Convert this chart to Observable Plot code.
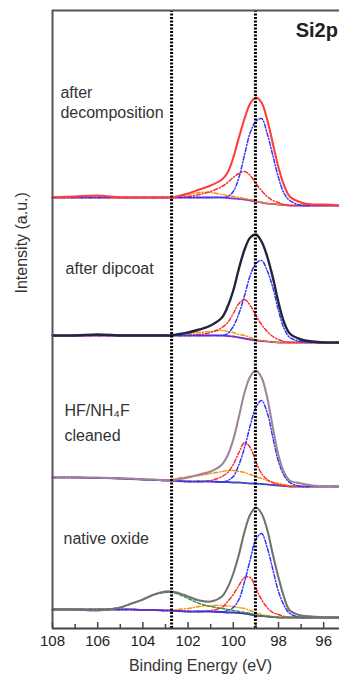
<!DOCTYPE html>
<html><head><meta charset="utf-8">
<script src="https://cdn.jsdelivr.net/npm/d3@7"></script>
<script src="https://cdn.jsdelivr.net/npm/@observablehq/plot@0.6"></script>
<style>body{margin:0;background:#fff;overflow:hidden} svg{display:block}</style>
</head><body><div id="chart"></div>
<script>
// Binding energy grid (eV)
const energy = [108, 107, 106, 105, 104.5, 104, 103.5, 103, 102.75, 102.5, 102, 101.5, 101, 100.5, 100.25, 100, 99.75, 99.5, 99.25, 99, 98.75, 98.5, 98.25, 98, 97.75, 97.5, 97, 96.5, 96, 95.3];

// vertical stacking offsets (a.u.)
const offsets = [431, 293, 151, 19];

// 1: after decomposition
const env1    = [0, 1, 2, 0, 0, 0, 0, 0, 0, 1, 4, 8, 12, 18, 25, 40, 60, 79, 94, 100, 95, 78, 54, 30, 12, 1, -5, -7, -7, -8];
const bg1     = [0, 0, 0, 0, 0, 0, 0, 0, 0, 0, 0, 0, 0, 0, -0.5, -1, -1.5, -2, -3, -4, -5, -6, -6.5, -7, -7.5, -8, -8, -8, -8, -8];
const blue1   = [0, 0, 0, 0, 0, 0, 0, 0, 0, 0, 0, 0, 0, 0, 1, 6, 20, 43, 65, 76, 79, 64, 42, 20, 4, -3, -8, -8, -8, -8];
const red1    = [0, 0, 0, 0, 0, 0, 0, 0, 0, 0, 1, 3, 6, 11, 15, 20, 24, 26, 22, 14, 7, 1, -3, -5, -7, -8, -8, -8, -8, -8];
const orange1 = [0, 0, 0, 0, 0, 0, 0, 0, 0, 1, 3, 5, 5, 3, 2, 1, 0, -1, -2, -3.5, -5, -6, -6.5, -7, -7.5, -8, -8, -8, -8, -8];

// 2: after dipcoat
const env2    = [0, 0, 1, 0, 0, 0, 0, 0, 0, 1, 3, 6, 10, 18, 29, 45, 67, 86, 98, 101, 94, 79, 58, 33, 13, 2, -4, -6, -7, -7];
const bg2     = [0, 0, 0, 0, 0, 0, 0, 0, 0, 0, 0, 0, 0, 0, -0.5, -1, -2, -3, -4, -5, -5.5, -6, -6.5, -7, -7, -7, -7, -7, -7, -7];
const blue2   = [0, 0, 0, 0, 0, 0, 0, 0, 0, 0, 0, 0, 0, 0, 2, 9, 22, 40, 60, 72, 75, 65, 48, 25, 7, -2, -6, -7, -7, -7];
const red2    = [0, 0, 0, 0, 0, 0, 0, 0, 0, 0, 0, 1, 3, 8, 13, 22, 32, 36, 30, 20, 11, 4, -1, -4, -6, -7, -7, -7, -7, -7];
const orange2 = [0, 0, 0, 0, 0, 0, 0, 0, 0, 1, 2, 3, 4, 5, 4, 3, 1, 0, -2, -4, -5, -6, -6.5, -7, -7, -7, -7, -7, -7, -7];

// 3: HF/NH4F cleaned
const env3    = [0, 0, 0, -1, -1, -2, -2, -3, -3, -2, 0, 3, 6, 13, 22, 38, 61, 85, 101, 107, 100, 80, 50, 22, 5, -3, -6, -8, -9, -9];
const bg3     = [0, 0, -0.5, -1, -1.5, -2, -2.5, -3, -3, -3.5, -4, -4, -4, -4.5, -4.5, -5, -5, -5.5, -6, -6, -6.5, -7, -7.5, -8, -8.5, -9, -9, -9, -9, -9];
const blue3   = [0, 0, -0.5, -1, -1.5, -2, -2.5, -3, -3, -3.5, -4, -4, -4, -4.5, -3, 1, 13, 30, 52, 70, 77, 65, 40, 16, 2, -5, -9, -9, -9, -9];
const red3    = [0, 0, -0.5, -1, -1.5, -2, -2.5, -3, -3, -3.5, -4, -4, -3, 1, 5, 13, 25, 35, 30, 16, 4, -2, -5, -7, -8, -9, -9, -9, -9, -9];
const orange3 = [0, 0, -0.5, -1, -1.5, -2, -2.5, -3, -2, -1, 1, 2, 4, 6, 7, 7, 6, 5, 3, 1, -1, -3, -5, -6, -7, -8, -9, -9, -9, -9];

// 4: native oxide
const env4    = [0, 0, -1, 2, 6, 10, 15, 18, 18, 17, 13, 9, 8, 13, 22, 36, 55, 78, 95, 102, 96, 80, 55, 32, 12, -1, -6, -7, -8, -8];
const bg4     = [0, 0, 0, 0, 0, -0.5, -0.5, -1, -1, -1.5, -2, -2, -2, -2.5, -3, -3, -3.5, -4, -5, -6, -6.5, -7, -7.5, -8, -8, -8, -8, -8, -8, -8];
const green4  = [0, 0, 0, 2, 6, 10, 15, 17, 17, 16, 11, 6, 3, 1, 0, -1, -2, -3, -4, -5.5, -6.5, -7, -7.5, -8, -8, -8, -8, -8, -8, -8];
const blue4   = [0, 0, 0, 0, 0, -0.5, -0.5, -1, -1, -1.5, -2, -2, -2, -2.5, -1, 2, 10, 28, 50, 70, 76, 62, 40, 18, 4, -4, -8, -8, -8, -8];
const red4    = [0, 0, 0, 0, 0, -0.5, -0.5, -1, -1, -1.5, -2, -2, -1, 2, 8, 15, 24, 32, 32, 21, 10, 2, -3, -5, -7, -8, -8, -8, -8, -8];
const orange4 = [0, 0, 0, 0, 0, -0.5, -0.5, -1, -1, 0, 1, 3, 4, 4, 3.5, 3, 2, 1, -1, -3, -5, -6, -7, -8, -8, -8, -8, -8, -8, -8];

const envelopes = [env1, env2, env3, env4];
const backgrounds = [bg1, bg2, bg3, bg4];
const blues = [blue1, blue2, blue3, blue4];
const reds = [red1, red2, red3, red4];
const oranges = [orange1, orange2, orange3, orange4];
const greens = [null, null, null, green4];

const referenceLines = [102.73, 99.02];
const majorTicks = [108, 106, 104, 102, 100, 98, 96];
const minorTicks = [107, 105, 103, 101, 99, 97];

// sample annotation lines: text, energy, intensity
const annoText = ["after", "decomposition", "after dipcoat", "HF/NH\u2084F", "cleaned", "native oxide"];
const annoE    = [107.65, 107.65, 107.42, 107.47, 107.47, 107.51];
const annoI    = [536, 516, 360, 218, 193, 90];

const envColors = ["#ff3d3d", "#24243c", "#9d8699", "#727272"];
const bgColors = ["#8a3fd6", "#7434c6", "#4646c4", "#3636b6"];

const row = (vals, k) => energy.map((e, i) => ({e, v: offsets[k] + vals[i]}));

const marks = [];
for (let k = 0; k < 4; k++) {
  marks.push(Plot.line(row(backgrounds[k], k), {x: "e", y: "v", stroke: bgColors[k], strokeWidth: 1.8, curve: "catmull-rom"}));
  marks.push(Plot.line(row(oranges[k], k), {x: "e", y: "v", stroke: "#ff8a00", strokeWidth: 1.4, strokeDasharray: "4,2,1,2", curve: "catmull-rom"}));
  marks.push(Plot.line(row(reds[k], k), {x: "e", y: "v", stroke: "#ff2e2e", strokeWidth: 1.5, strokeDasharray: "4,2,1,2", curve: "catmull-rom"}));
  marks.push(Plot.line(row(blues[k], k), {x: "e", y: "v", stroke: "#3434ff", strokeWidth: 1.5, strokeDasharray: "4,2,1,2", curve: "catmull-rom"}));
  if (greens[k]) marks.push(Plot.line(row(greens[k], k), {x: "e", y: "v", stroke: "#3d8a3d", strokeWidth: 1.5, strokeDasharray: "3,2", curve: "catmull-rom"}));
  marks.push(Plot.line(row(envelopes[k], k), {x: "e", y: "v", stroke: envColors[k], strokeWidth: k === 1 ? 2.4 : 2.1, curve: "catmull-rom"}));
}

const annos = annoText.map((t, i) => ({t, e: annoE[i], v: annoI[i]}));

const chart = Plot.plot({
  width: 339,
  height: 683,
  marginTop: 10,
  marginBottom: 55,
  marginLeft: 52,
  marginRight: 0,
  style: {fontFamily: "'Liberation Sans', Arial, sans-serif", color: "#222", background: "#fff"},
  x: {domain: [108, 95.3]},
  y: {domain: [0, 618]},
  marks: [
    ...marks,
    Plot.ruleX(referenceLines, {stroke: "#000", strokeWidth: 3, strokeDasharray: "2,1.5"}),
    Plot.ruleY([618], {stroke: "#555", strokeWidth: 2}),
    Plot.ruleX([108], {stroke: "#555", strokeWidth: 2}),
    Plot.ruleY([0], {stroke: "#444", strokeWidth: 2}),
    Plot.ruleX(majorTicks, {y1: 0, y2: 6, stroke: "#444", strokeWidth: 1.5}),
    Plot.ruleX(minorTicks, {y1: 0, y2: 4, stroke: "#444", strokeWidth: 1.5}),
    Plot.axisX({ticks: majorTicks, tickSize: 0, tickPadding: 7, fontSize: 15, label: null}),
    Plot.axisY({ticks: [], label: null}),
    Plot.text(annos, {x: "e", y: "v", text: "t", textAnchor: "start", fontSize: 16, fill: "#333"}),
    Plot.text(["Binding Energy (eV)"], {x: [101.45], frameAnchor: "bottom", dy: 42, fontSize: 16, fill: "#333"}),
    Plot.text(["Intensity (a.u.)"], {y: [335], frameAnchor: "left", dx: -31, rotate: -90, fontSize: 16, fill: "#333"}),
    Plot.text(["Si2p"], {x: [95.37], y: [598], textAnchor: "end", fontSize: 20, fontWeight: "bold", fill: "#222"})
  ]
});
document.getElementById("chart").appendChild(chart);
</script>
</body></html>
